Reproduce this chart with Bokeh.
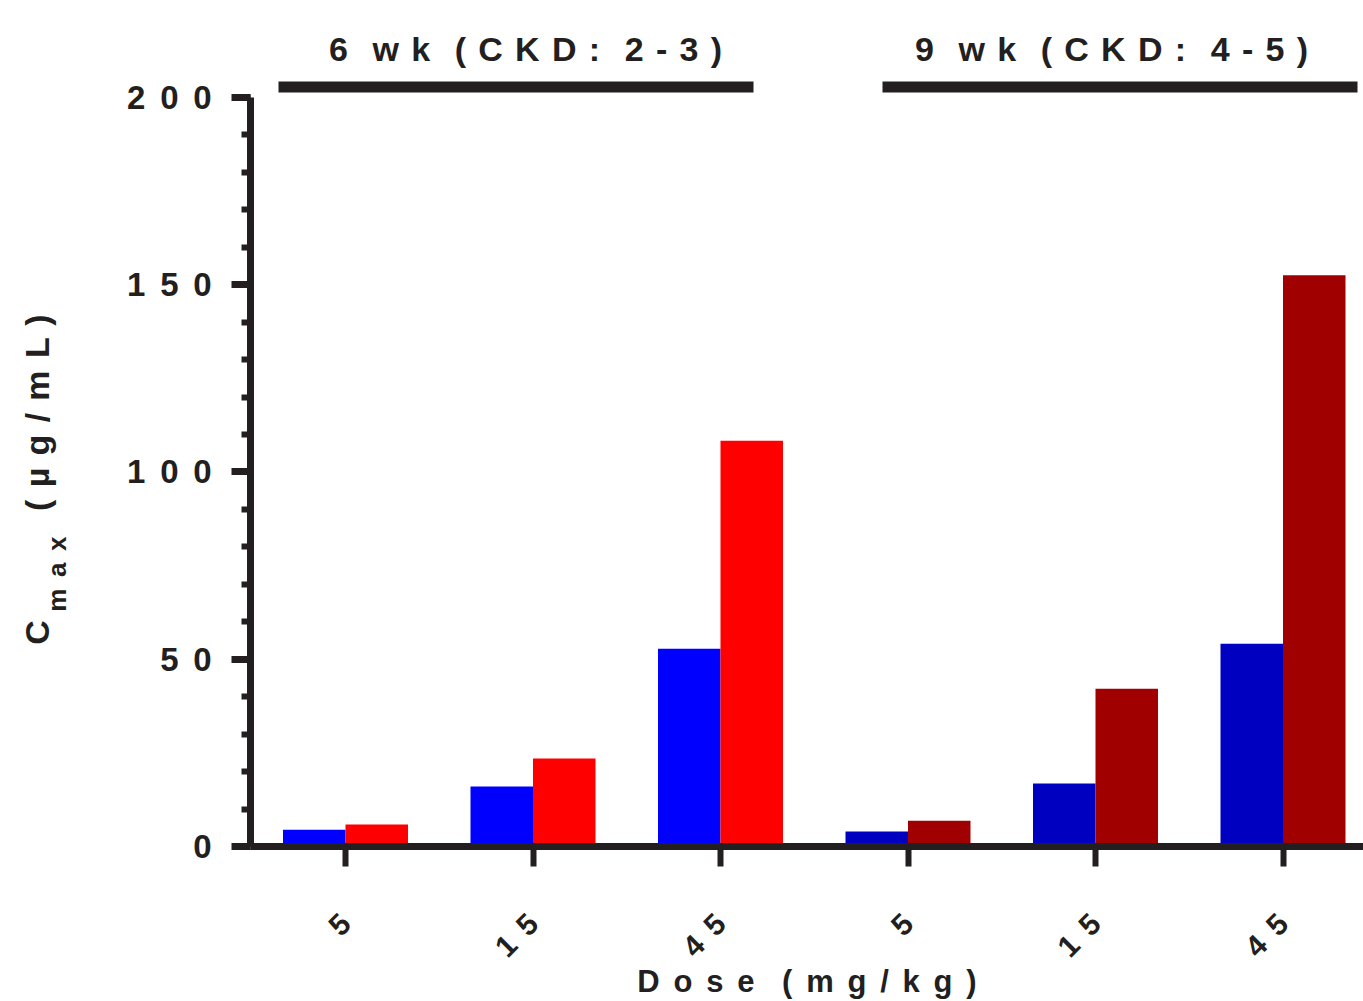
import math
from bokeh.plotting import figure
from bokeh.layouts import row
from bokeh.models import ColumnDataSource, Range1d, FixedTicker
from bokeh.core.properties import value
from bokeh.embed import file_html
from bokeh.resources import INLINE

# ---------------- data ----------------
doses = ["5", "15", "45", "5", "15", "45"]
groups = ["6 wk (CKD: 2-3)", "9 wk (CKD: 4-5)"]
series_a = [4.5, 16.0, 52.8, 4.0, 16.8, 54.1]     # blue bars
series_b = [5.9, 23.5, 108.3, 6.9, 42.1, 152.5]   # red bars
colors_a = ["#0000FF", "#0000FF", "#0000FF", "#0000C0", "#0000C0", "#0000C0"]
colors_b = ["#FF0000", "#FF0000", "#FF0000", "#A00000", "#A00000", "#A00000"]
y_ticks = [0, 50, 100, 150, 200]
x_title = "Dose (mg/kg)"
y_title_main, y_title_sub, y_title_unit = "C", "max", "(µg/mL)"

INK = "#231F20"
FONT = "Liberation Sans"
GAP_WIDE = " \u2006"     # letter spacing of the numbers
GAP_NARROW = " \u200a"   # letter spacing of the longer texts


def spaced(s, gap=GAP_WIDE):
    return (gap + gap).join(gap.join(list(w)) for w in s.split(" "))


W, H = 1363, 1001
LW = 100                       # width of the narrow figure carrying the y title
left, top, bottom = 250, 10, 154
px_per_x = 187.5
x0 = -(345 - left) / px_per_x
x1 = x0 + (W - left) / px_per_x
px_per_y = 3.75
y1 = (H - top - bottom) / px_per_y

idx = list(range(len(doses)))
bw = 1.0 / 3.0
src = ColumnDataSource(dict(
    xa=[i - bw / 2 for i in idx],
    xb=[i + bw / 2 for i in idx],
    a=series_a, b=series_b, ca=colors_a, cb=colors_b,
))

p = figure(width=W - LW, height=H, output_backend="svg", toolbar_location=None,
           x_range=Range1d(x0, x1), y_range=Range1d(0, y1),
           min_border_left=left - LW, min_border_right=0,
           min_border_top=top, min_border_bottom=bottom)
p.outline_line_color = None
p.xgrid.visible = False
p.ygrid.visible = False

p.vbar(x="xa", top="a", width=bw, bottom=0, fill_color="ca", line_color=None, source=src)
p.vbar(x="xb", top="b", width=bw, bottom=0, fill_color="cb", line_color=None, source=src)

# y axis
ya = p.yaxis[0]
ya.ticker = FixedTicker(ticks=y_ticks, minor_ticks=list(range(0, 201, 10)))
ya.major_label_overrides = {t: spaced(str(t)) for t in y_ticks}
ya.bounds = (0, 200)
ya.axis_line_width = 7
ya.axis_line_color = INK
ya.major_tick_line_width = 7
ya.major_tick_line_color = INK
ya.major_tick_out = 19
ya.major_tick_in = 0
ya.minor_tick_line_width = 6
ya.minor_tick_line_color = INK
ya.minor_tick_out = 9
ya.minor_tick_in = 0
ya.major_label_standoff = 20
ya.major_label_text_font = FONT
ya.major_label_text_font_style = "bold"
ya.major_label_text_font_size = "33px"
ya.major_label_text_color = INK

# x axis
xa = p.xaxis[0]
xa.ticker = FixedTicker(ticks=idx, minor_ticks=[])
xa.major_label_overrides = {i: spaced(d) for i, d in zip(idx, doses)}
xa.axis_line_width = 7
xa.axis_line_color = INK
xa.major_tick_line_width = 6
xa.major_tick_line_color = INK
xa.major_tick_out = 20
xa.major_tick_in = 0
xa.minor_tick_line_color = None
xa.major_label_orientation = math.pi / 4
xa.major_label_standoff = 52
xa.major_label_text_font = FONT
xa.major_label_text_font_style = "bold"
xa.major_label_text_font_size = "30px"
xa.major_label_text_color = INK
xa.axis_label = spaced(x_title)
xa.axis_label_standoff = -14
xa.axis_label_text_font = FONT
xa.axis_label_text_font_style = "bold"
xa.axis_label_text_font_size = "31px"
xa.axis_label_text_color = INK

# group headers
hdr_x0 = [(278 - 345) / px_per_x, (882 - 345) / px_per_x]
hdr_x1 = [(753 - 345) / px_per_x, (1357 - 345) / px_per_x]
hdr_y = (847 - 86.5) / px_per_y
hdr_tx = [(525 - 345) / px_per_x, (1111 - 345) / px_per_x]
hdr_ty = (847 - 49) / px_per_y
p.segment(x0=hdr_x0, y0=[hdr_y] * 2, x1=hdr_x1, y1=[hdr_y] * 2,
          line_width=11, line_color=INK, line_cap="butt")
p.text(x=hdr_tx, y=[hdr_ty] * 2, text=[spaced(g, GAP_NARROW) for g in groups],
       text_align="center", text_baseline="middle", text_font=value(FONT),
       text_font_style="bold", text_font_size="34px", text_color=INK)

# narrow figure on the left carrying the y axis title (C with subscript max)
# same vertical frame and scale as the main figure
q = figure(width=LW, height=H, output_backend="svg", toolbar_location=None,
           x_range=Range1d(0, LW), y_range=Range1d(0, y1),
           x_axis_location=None, y_axis_location=None,
           min_border_left=0, min_border_right=0,
           min_border_top=top, min_border_bottom=bottom)
q.grid.visible = False
q.outline_line_color = None
for txt, bx, start, size in [(y_title_main, 36, 645, "34px"),
                             (spaced(y_title_sub), 56, 612, "26px"),
                             (spaced(y_title_unit, GAP_NARROW), 36, 511, "34px")]:
    q.text(x=[bx], y=[(847 - start) / px_per_y], text=[txt], angle=math.pi / 2,
           text_align="left", text_baseline="alphabetic",
           text_font=value(FONT), text_font_style="bold",
           text_font_size=size, text_color=INK)

open("out.html", "w").write(file_html(row(q, p), INLINE))
